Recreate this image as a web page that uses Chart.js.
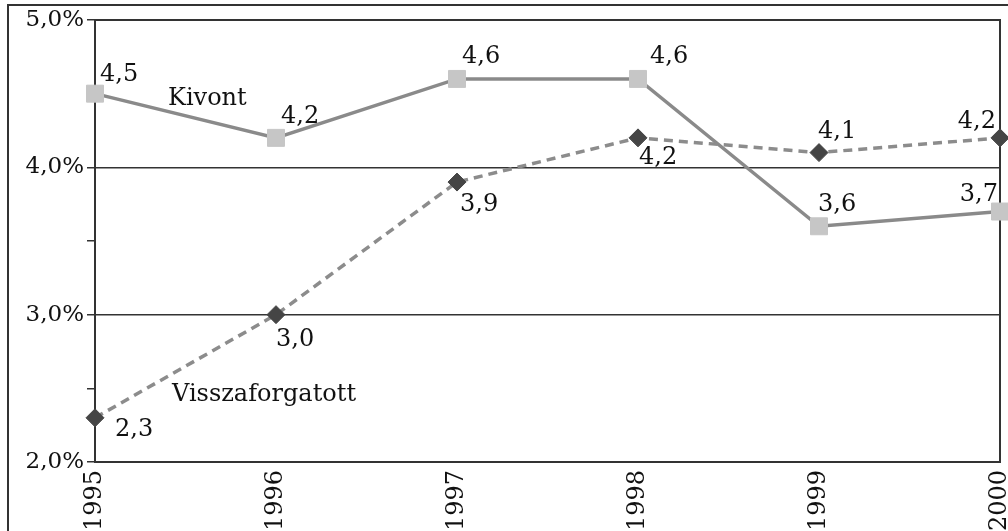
<!DOCTYPE html>
<html>
<head>
<meta charset="utf-8">
<script src="https://cdn.jsdelivr.net/npm/chart.js@4"></script>
<style>
  html, body { margin: 0; padding: 0; background: #fff; overflow: hidden; }
  #wrap { position: relative; width: 1008px; height: 531px; }
  #frame { position: absolute; left: 7px; top: 4px; width: 1100px; height: 600px; border: 2px solid #333; }
  #chart { position: absolute; left: 0; top: 0; }
</style>
</head>
<body>
<div id="wrap">
  <div id="frame"></div>
  <canvas id="chart" width="1008" height="531"></canvas>
</div>
<script>
// data
const years = ['1995', '1996', '1997', '1998', '1999', '2000'];
const kivont = [4.5, 4.2, 4.6, 4.6, 3.6, 3.7];
const visszaforgatott = [2.3, 3.0, 3.9, 4.2, 4.1, 4.2];
const yTicks = [2, 3, 4, 5];

const FONT = '"DejaVu Serif", serif';
const fmt = v => v.toFixed(1).replace('.', ',');

// label placement relative to each point: [dx, dy, align]
const labelOffsets = {
  Kivont: [[5, -13, 'left'], [5, -15, 'left'], [5, -16, 'left'], [12, -16, 'left'], [-1, -15, 'left'], [-2, -11, 'right']],
  Visszaforgatott: [[20, 18, 'left'], [0, 31, 'left'], [3, 29, 'left'], [1, 26, 'left'], [-1, -15, 'left'], [-4, -10, 'right']]
};
// series name placement relative to the first point
const nameOffsets = { Kivont: [73, 11], Visszaforgatott: [77, -17] };

const labelsPlugin = {
  id: 'labels',
  beforeDatasetsDraw(chart) {
    const { ctx, chartArea: a } = chart;
    ctx.save();
    ctx.strokeStyle = '#333';
    ctx.lineWidth = 2;
    ctx.strokeRect(a.left, a.top, a.right - a.left, a.bottom - a.top);
    ctx.restore();
  },
  afterDatasetsDraw(chart) {
    const ctx = chart.ctx;
    ctx.save();
    ctx.fillStyle = '#111';
    ctx.font = '24px ' + FONT;
    ctx.textBaseline = 'alphabetic';
    chart.data.datasets.forEach((ds, i) => {
      const meta = chart.getDatasetMeta(i);
      const offs = labelOffsets[ds.label];
      meta.data.forEach((pt, j) => {
        const [dx, dy, al] = offs[j];
        ctx.textAlign = al;
        ctx.fillText(fmt(ds.data[j]), pt.x + dx, pt.y + dy);
      });
      const p0 = meta.data[0];
      const n = nameOffsets[ds.label];
      ctx.textAlign = 'left';
      ctx.fillText(ds.label, p0.x + n[0], p0.y + n[1]);
    });
    ctx.restore();
  }
};

new Chart(document.getElementById('chart'), {
  type: 'line',
  data: {
    labels: years,
    datasets: [
      {
        label: 'Visszaforgatott',
        data: visszaforgatott,
        borderColor: '#8c8c8c',
        borderWidth: 3.5,
        borderDash: [9, 6],
        pointStyle: 'rectRot',
        pointRadius: 9,
        pointBackgroundColor: '#454545',
        pointBorderColor: '#454545',
        pointBorderWidth: 1,
        tension: 0,
        clip: false
      },
      {
        label: 'Kivont',
        data: kivont,
        borderColor: '#8a8a8a',
        borderWidth: 3.5,
        pointStyle: 'rect',
        pointRadius: 12,
        pointBackgroundColor: '#c6c6c6',
        pointBorderColor: '#c6c6c6',
        pointBorderWidth: 1,
        tension: 0,
        clip: false
      }
    ]
  },
  options: {
    responsive: false,
    animation: false,
    layout: { autoPadding: false, padding: { top: 20, right: 8, left: 0, bottom: 0 } },
    plugins: { legend: { display: false }, tooltip: { enabled: false } },
    scales: {
      x: {
        offset: false,
        grid: { display: false, drawTicks: false },
        border: { display: false },
        ticks: {
          autoSkip: false,
          maxRotation: 90,
          minRotation: 90,
          padding: 8,
          color: '#111',
          font: { family: FONT, size: 24 }
        },
        afterFit(s) { s.height = 69; s.paddingLeft = 0; s.paddingRight = 0; }
      },
      y: {
        min: yTicks[0],
        max: yTicks[yTicks.length - 1],
        border: { display: false },
        grid: {
          color: c => Number.isInteger(c.tick.value) ? '#333' : 'rgba(0,0,0,0)',
          tickColor: '#333',
          lineWidth: 1.5,
          tickLength: 8
        },
        ticks: {
          stepSize: 0.5,
          padding: 3,
          color: '#111',
          font: { family: FONT, size: 23 },
          callback: v => yTicks.includes(v) ? fmt(v) + '%' : ''
        },
        afterFit(s) { s.width = 95; s.paddingTop = 0; s.paddingBottom = 0; }
      }
    }
  },
  plugins: [labelsPlugin]
});
</script>
</body>
</html>
